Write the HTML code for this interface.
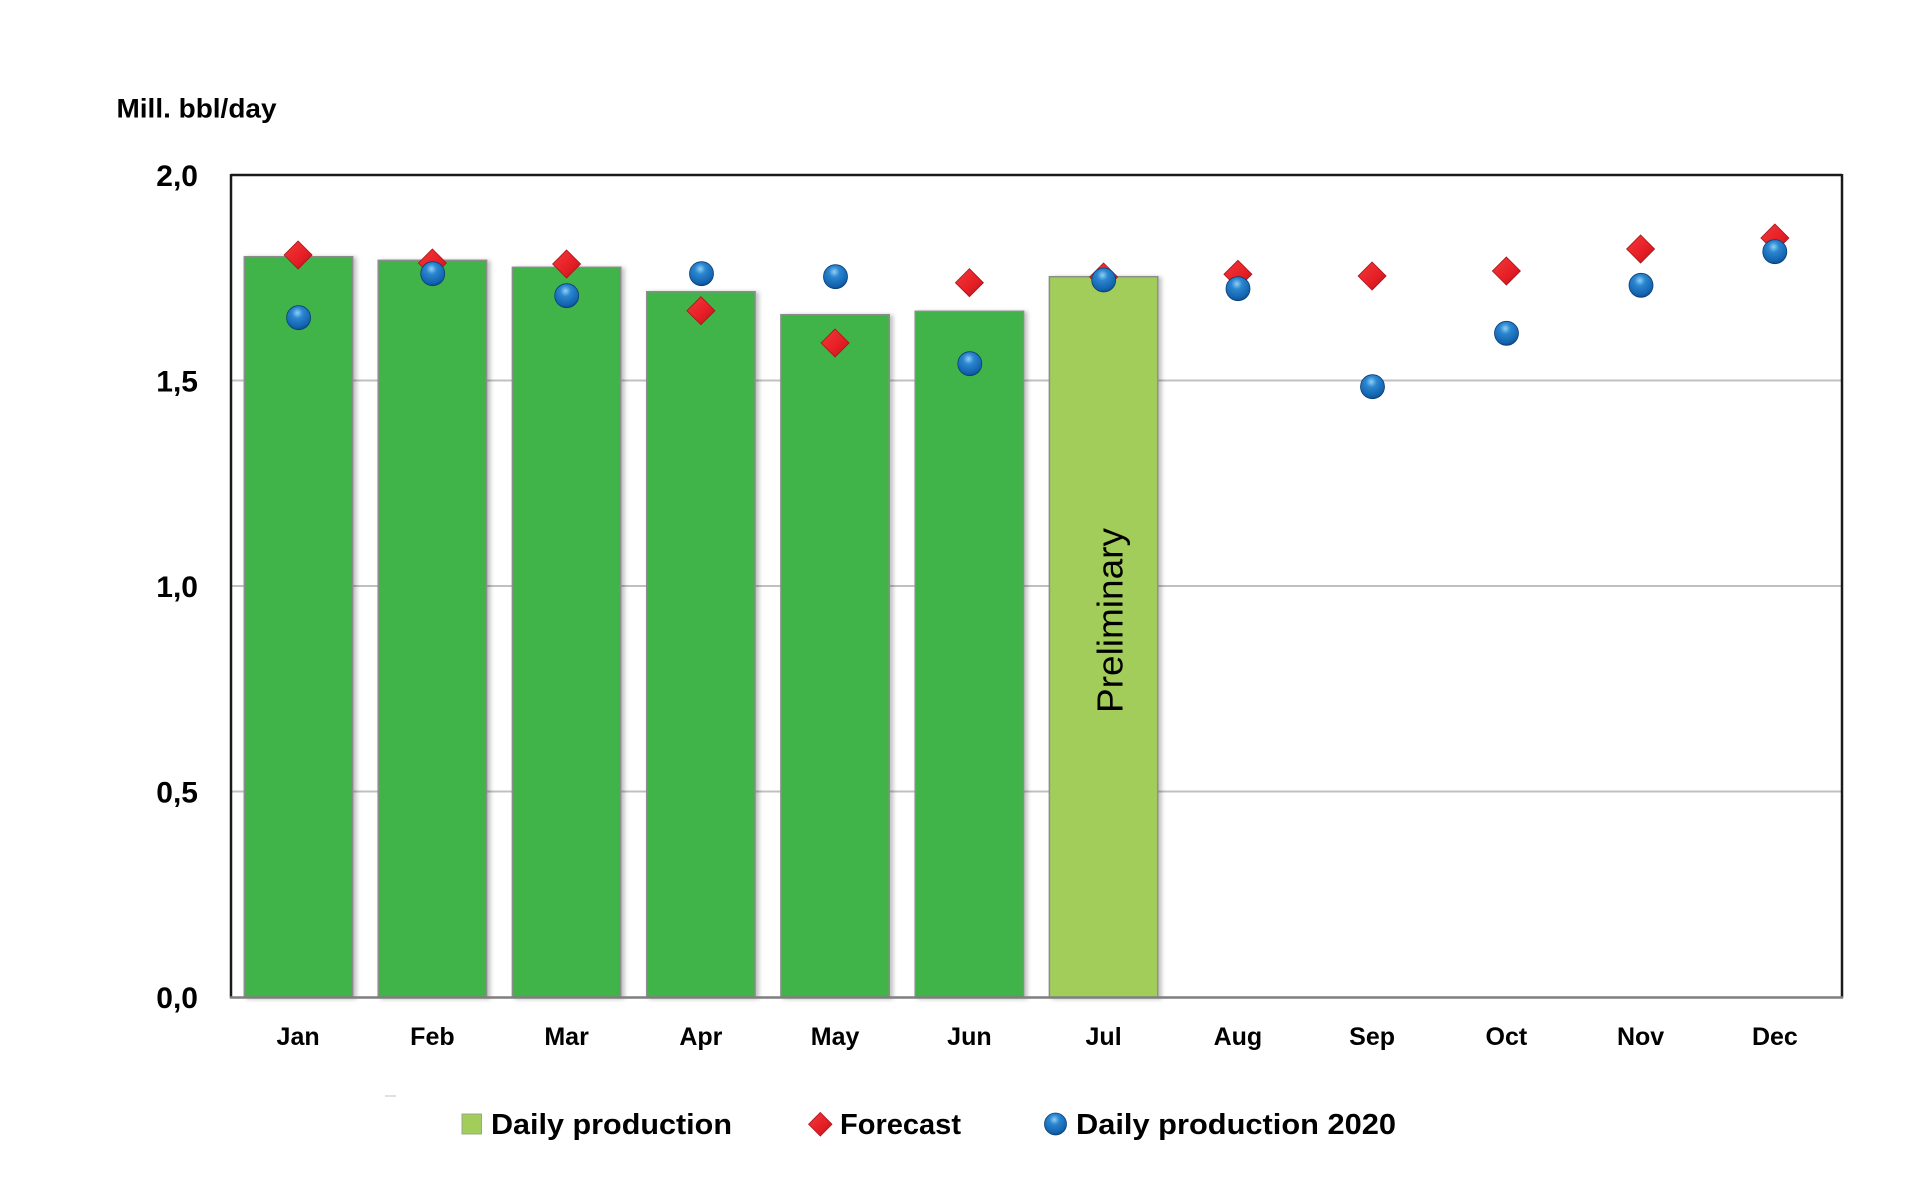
<!DOCTYPE html>
<html>
<head>
<meta charset="utf-8">
<style>
  html, body { margin: 0; padding: 0; background: #ffffff; }
  svg { display: block; }
  text { font-family: "Liberation Sans", Arial, sans-serif; }
</style>
</head>
<body>
<svg width="1920" height="1189" viewBox="0 0 1920 1189" xmlns="http://www.w3.org/2000/svg">
  <defs>
    <radialGradient id="ball" cx="0.45" cy="0.3" r="0.75">
      <stop offset="0" stop-color="#8fd0f5"/>
      <stop offset="0.3" stop-color="#2b86d0"/>
      <stop offset="0.8" stop-color="#1262ad"/>
      <stop offset="1" stop-color="#0b3f78"/>
    </radialGradient>
    <linearGradient id="dia" x1="0" y1="0" x2="1" y2="1">
      <stop offset="0" stop-color="#f33a3a"/>
      <stop offset="0.6" stop-color="#e51e25"/>
      <stop offset="1" stop-color="#b3151b"/>
    </linearGradient>
    <filter id="sh" x="-10%" y="-5%" width="125%" height="110%">
      <feDropShadow dx="3" dy="1" stdDeviation="2" flood-color="#000" flood-opacity="0.25"/>
    </filter>
  </defs>

  <!-- axis title -->
  <text x="116.5" y="117.5" font-size="27" font-weight="bold" fill="#000" textLength="160" lengthAdjust="spacingAndGlyphs">Mill. bbl/day</text>

  <!-- gridlines -->
  <g stroke="#c0c0c0" stroke-width="2">
    <line x1="231" y1="380.5" x2="1842" y2="380.5"/>
    <line x1="231" y1="586" x2="1842" y2="586"/>
    <line x1="231" y1="791.5" x2="1842" y2="791.5"/>
  </g>

  <!-- y tick labels -->
  <g font-size="30" font-weight="bold" fill="#000" text-anchor="end">
    <text x="198" y="186">2,0</text>
    <text x="198" y="391.5">1,5</text>
    <text x="198" y="597">1,0</text>
    <text x="198" y="802.5">0,5</text>
    <text x="198" y="1008">0,0</text>
  </g>

  <!-- bars -->
  <g filter="url(#sh)" stroke="#8c8c8c" stroke-width="1.5">
    <rect x="244.3" y="256.7" width="108.4" height="740.6" fill="#41b34a"/>
    <rect x="378.2" y="260.3" width="108.4" height="737.0" fill="#41b34a"/>
    <rect x="512.4" y="267.3" width="108.4" height="730.0" fill="#41b34a"/>
    <rect x="646.7" y="291.7" width="108.4" height="705.6" fill="#41b34a"/>
    <rect x="780.9" y="314.7" width="108.4" height="682.6" fill="#41b34a"/>
    <rect x="915.2" y="311.3" width="108.4" height="686.0" fill="#41b34a"/>
    <rect x="1049.4" y="276.7" width="108.4" height="720.6" fill="#a2cd5a"/>
  </g>

  <!-- Preliminary label -->
  <text transform="translate(1122.5,620.5) rotate(-90)" x="0" y="0" text-anchor="middle" font-size="36" fill="#000" textLength="185" lengthAdjust="spacingAndGlyphs">Preliminary</text>

  <!-- plot frame -->
  <line x1="231" y1="175" x2="1842" y2="175" stroke="#1a1a1a" stroke-width="2.5"/>
  <line x1="231" y1="174" x2="231" y2="998" stroke="#1a1a1a" stroke-width="2.5"/>
  <line x1="1842" y1="174" x2="1842" y2="998" stroke="#1a1a1a" stroke-width="2.5"/>
  <line x1="230" y1="997.5" x2="1843" y2="997.5" stroke="#7f7f7f" stroke-width="2.5"/>

  <!-- forecast diamonds -->
  <g fill="url(#dia)" stroke="#a8141a" stroke-width="0.8">
    <polygon points="298.1,241 312.1,255 298.1,269 284.1,255"/>
    <polygon points="432.4,249 446.4,263 432.4,277 418.4,263"/>
    <polygon points="566.6,250 580.6,264 566.6,278 552.6,264"/>
    <polygon points="700.9,296.7 714.9,310.7 700.9,324.7 686.9,310.7"/>
    <polygon points="835.1,329 849.1,343 835.1,357 821.1,343"/>
    <polygon points="969.4,268.7 983.4,282.7 969.4,296.7 955.4,282.7"/>
    <polygon points="1103.6,263 1117.6,277 1103.6,291 1089.6,277"/>
    <polygon points="1237.9,260.3 1251.9,274.3 1237.9,288.3 1223.9,274.3"/>
    <polygon points="1372.1,262 1386.1,276 1372.1,290 1358.1,276"/>
    <polygon points="1506.4,257 1520.4,271 1506.4,285 1492.4,271"/>
    <polygon points="1640.6,235 1654.6,249 1640.6,263 1626.6,249"/>
    <polygon points="1774.9,224 1788.9,238 1774.9,252 1760.9,238"/>
  </g>

  <!-- daily production 2020 circles -->
  <g fill="url(#ball)" stroke="#0b3f78" stroke-width="0.8">
    <circle cx="298.6" cy="317.7" r="12"/>
    <circle cx="432.7" cy="273.7" r="12"/>
    <circle cx="566.7" cy="295.7" r="12"/>
    <circle cx="701.5" cy="273.7" r="12"/>
    <circle cx="835.5" cy="276.7" r="12"/>
    <circle cx="969.8" cy="363.7" r="12"/>
    <circle cx="1103.7" cy="280" r="12"/>
    <circle cx="1238" cy="288.7" r="12"/>
    <circle cx="1372.5" cy="386.7" r="12"/>
    <circle cx="1506.5" cy="333.3" r="12"/>
    <circle cx="1641" cy="285.3" r="12"/>
    <circle cx="1774.8" cy="251.7" r="12"/>
  </g>

  <!-- month labels -->
  <g font-size="25" font-weight="bold" fill="#000" text-anchor="middle">
    <text x="298.1" y="1045">Jan</text>
    <text x="432.4" y="1045">Feb</text>
    <text x="566.6" y="1045">Mar</text>
    <text x="700.9" y="1045">Apr</text>
    <text x="835.1" y="1045">May</text>
    <text x="969.4" y="1045">Jun</text>
    <text x="1103.6" y="1045">Jul</text>
    <text x="1237.9" y="1045">Aug</text>
    <text x="1372.1" y="1045">Sep</text>
    <text x="1506.4" y="1045">Oct</text>
    <text x="1640.6" y="1045">Nov</text>
    <text x="1774.9" y="1045">Dec</text>
  </g>

  <!-- small dash -->
  <line x1="385" y1="1096" x2="396" y2="1096" stroke="#c0c0c0" stroke-width="1"/>

  <!-- legend -->
  <rect x="462" y="1114" width="19.5" height="20" fill="#a2cd5a" stroke="#9aa88a" stroke-width="1"/>
  <text x="491" y="1134" font-size="29" font-weight="bold" fill="#000" textLength="241" lengthAdjust="spacingAndGlyphs">Daily production</text>

  <polygon points="820.3,1112.5 832,1124.3 820.3,1136 808.6,1124.3" fill="url(#dia)" stroke="#a8141a" stroke-width="0.8"/>
  <text x="840" y="1134" font-size="29" font-weight="bold" fill="#000" textLength="121" lengthAdjust="spacingAndGlyphs">Forecast</text>

  <circle cx="1055.5" cy="1124" r="11" fill="url(#ball)" stroke="#0b3f78" stroke-width="0.8"/>
  <text x="1076" y="1134" font-size="29" font-weight="bold" fill="#000" textLength="320" lengthAdjust="spacingAndGlyphs">Daily production 2020</text>
</svg>
</body>
</html>
